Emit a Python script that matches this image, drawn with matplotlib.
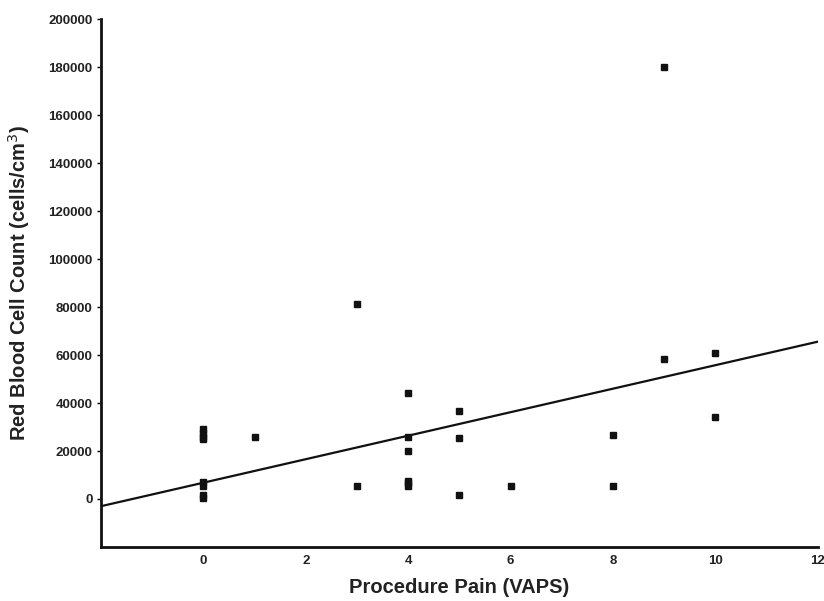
import numpy as np
import matplotlib
matplotlib.use("Agg")
import matplotlib.pyplot as plt

plt.rcParams['font.family'] = ['Liberation Sans', 'DejaVu Sans']

# Data
pain_vaps = [0, 0, 0, 0, 0, 0, 0, 0,
             1,
             3, 3,
             4, 4, 4, 4, 4, 4,
             5, 5, 5,
             6,
             8, 8,
             9, 9,
             10, 10]
rbc_count = [29000, 27500, 26000, 25000, 7000, 5500, 1500, 500,
             26000,
             81500, 5500,
             44000, 26000, 20000, 7500, 6500, 5500,
             36500, 25500, 1500,
             5500,
             26500, 5500,
             180000, 58500,
             61000, 34000]

fit_intercept = 6800
fit_slope = 4900

x_ticks = [0, 2, 4, 6, 8, 10, 12]
y_ticks = [0, 20000, 40000, 60000, 80000, 100000, 120000, 140000, 160000, 180000, 200000]

fig = plt.figure(figsize=(8.24, 6.01), dpi=100)
ax = fig.add_axes([0.1226, 0.0899, 0.8700, 0.878])

ax.plot(pain_vaps, rbc_count, linestyle='none', marker='s', markersize=5,
        color='#111111', clip_on=False)

xl = np.array([-2, 12])
ax.plot(xl, fit_intercept + fit_slope * xl, color='#111111', linewidth=1.6)

ax.set_xlim(-2, 12)
ax.set_ylim(-20000, 200000)
ax.set_xticks(x_ticks)
ax.set_yticks(y_ticks)
ax.set_xticklabels([str(t) for t in x_ticks])
ax.set_yticklabels([str(t) for t in y_ticks])

for s in ['top', 'right']:
    ax.spines[s].set_visible(False)
for s in ['left', 'bottom']:
    ax.spines[s].set_linewidth(2)
    ax.spines[s].set_color('#111111')

ax.tick_params(axis='x', length=0, pad=6, labelsize=9.5)
ax.tick_params(axis='y', length=3, width=1, pad=3, labelsize=9.5)
for lab in ax.get_xticklabels() + ax.get_yticklabels():
    lab.set_fontweight('bold')
    lab.set_color('#222222')

ax.set_xlabel('Procedure Pain (VAPS)', fontsize=14.5, fontweight='bold', labelpad=8, color='#222222')
ax.set_ylabel('Red Blood Cell Count (cells/cm$^3$)', fontsize=14.5, fontweight='bold', labelpad=12, color='#222222')

fig.savefig('out.png', dpi=100)
